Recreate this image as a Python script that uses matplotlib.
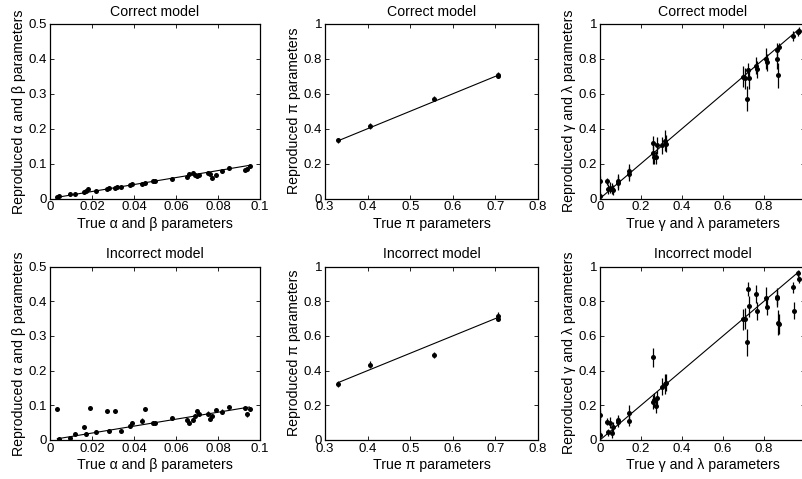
import matplotlib
matplotlib.use("Agg")
import matplotlib.pyplot as plt

plt.rcParams['font.family'] = ['Liberation Sans', 'DejaVu Sans']

# ---------------- data ----------------
# alpha / beta panels
ab_true_c = [0.0035, 0.0045, 0.0095, 0.012, 0.016, 0.017, 0.018, 0.022, 0.027, 0.028,
             0.031, 0.032, 0.034, 0.038, 0.039, 0.044, 0.045, 0.049, 0.050, 0.058,
             0.065, 0.066, 0.068, 0.069, 0.070, 0.071, 0.075, 0.076, 0.077, 0.079,
             0.082, 0.085, 0.093, 0.094, 0.095]
ab_rep_c = [0.005, 0.006, 0.012, 0.012, 0.018, 0.022, 0.026, 0.022, 0.027, 0.029,
            0.030, 0.033, 0.034, 0.039, 0.042, 0.042, 0.044, 0.050, 0.050, 0.056,
            0.063, 0.070, 0.074, 0.068, 0.064, 0.068, 0.073, 0.070, 0.060, 0.066,
            0.079, 0.088, 0.082, 0.085, 0.092]
ab_err_c = [0.003, 0.003, 0.002, 0.002, 0.003, 0.004, 0.004, 0.002, 0.004, 0.003,
            0.005, 0.006, 0.002, 0.003, 0.003, 0.003, 0.003, 0.003, 0.002, 0.003,
            0.004, 0.006, 0.006, 0.004, 0.004, 0.004, 0.005, 0.004, 0.004, 0.003,
            0.005, 0.004, 0.004, 0.005, 0.004]

ab_true_i = [0.0035, 0.0045, 0.0095, 0.012, 0.016, 0.017, 0.019, 0.022, 0.027, 0.028,
             0.031, 0.034, 0.038, 0.039, 0.044, 0.045, 0.049, 0.050, 0.058, 0.065,
             0.066, 0.068, 0.069, 0.070, 0.071, 0.075, 0.076, 0.077, 0.079, 0.082,
             0.085, 0.093, 0.094, 0.095]
ab_rep_i = [0.090, 0.004, 0.007, 0.018, 0.037, 0.018, 0.093, 0.022, 0.083, 0.027,
            0.083, 0.026, 0.040, 0.050, 0.055, 0.090, 0.049, 0.050, 0.063, 0.058,
            0.050, 0.057, 0.070, 0.083, 0.075, 0.076, 0.060, 0.068, 0.087, 0.082,
            0.094, 0.091, 0.074, 0.090]
ab_err_i = [0.002, 0.003, 0.003, 0.003, 0.004, 0.006, 0.002, 0.002, 0.002, 0.003,
            0.002, 0.003, 0.005, 0.006, 0.007, 0.002, 0.003, 0.002, 0.004, 0.006,
            0.005, 0.005, 0.005, 0.005, 0.004, 0.007, 0.006, 0.006, 0.002, 0.006,
            0.002, 0.005, 0.008, 0.006]

# pi panels
pi_true_c = [0.330, 0.405, 0.555, 0.705, 0.707]
pi_rep_c = [0.333, 0.415, 0.572, 0.708, 0.702]
pi_err_c = [0.016, 0.016, 0.016, 0.016, 0.010]

pi_true_i = [0.330, 0.405, 0.555, 0.705, 0.707]
pi_rep_i = [0.322, 0.435, 0.488, 0.716, 0.700]
pi_err_i = [0.016, 0.022, 0.018, 0.020, 0.012]

# gamma / lambda panels
gl_true_c = [0.000, 0.000, 0.033, 0.037, 0.049, 0.059, 0.065, 0.086, 0.088, 0.140,
             0.143, 0.257, 0.260, 0.265, 0.273, 0.276, 0.302, 0.317, 0.322, 0.699,
             0.709, 0.717, 0.720, 0.725, 0.761, 0.764, 0.810, 0.813, 0.862, 0.865,
             0.870, 0.872, 0.943, 0.964, 0.972]
gl_rep_c = [0.100, 0.015, 0.100, 0.053, 0.063, 0.057, 0.050, 0.100, 0.090, 0.140,
            0.160, 0.260, 0.320, 0.235, 0.235, 0.305, 0.305, 0.330, 0.315, 0.697,
            0.690, 0.573, 0.735, 0.690, 0.762, 0.740, 0.800, 0.780, 0.853, 0.800,
            0.705, 0.869, 0.930, 0.952, 0.960]
gl_err_c = [0.030, 0.020, 0.020, 0.030, 0.030, 0.030, 0.030, 0.040, 0.040, 0.040,
            0.040, 0.060, 0.040, 0.040, 0.040, 0.050, 0.050, 0.060, 0.050, 0.060,
            0.060, 0.070, 0.040, 0.060, 0.050, 0.050, 0.060, 0.050, 0.040, 0.060,
            0.070, 0.020, 0.030, 0.020, 0.020]

gl_true_i = [0.000, 0.000, 0.033, 0.037, 0.049, 0.059, 0.065, 0.086, 0.088, 0.140,
             0.143, 0.257, 0.260, 0.265, 0.273, 0.276, 0.302, 0.317, 0.322, 0.699,
             0.709, 0.717, 0.720, 0.725, 0.761, 0.764, 0.810, 0.813, 0.862, 0.865,
             0.870, 0.872, 0.943, 0.945, 0.964, 0.972]
gl_rep_i = [0.144, 0.030, 0.105, 0.044, 0.100, 0.042, 0.073, 0.115, 0.105, 0.112,
            0.154, 0.477, 0.221, 0.230, 0.196, 0.240, 0.307, 0.323, 0.330, 0.696,
            0.700, 0.562, 0.870, 0.770, 0.842, 0.744, 0.821, 0.769, 0.817, 0.827,
            0.677, 0.669, 0.879, 0.746, 0.960, 0.927]
gl_err_i = [0.030, 0.020, 0.020, 0.020, 0.030, 0.030, 0.030, 0.030, 0.030, 0.030,
            0.045, 0.055, 0.040, 0.040, 0.040, 0.040, 0.050, 0.060, 0.050, 0.060,
            0.060, 0.080, 0.040, 0.060, 0.050, 0.050, 0.060, 0.050, 0.050, 0.050,
            0.070, 0.060, 0.030, 0.050, 0.020, 0.020]

titles = ["Correct model", "Incorrect model"]
xlabels = ["True \u03b1 and \u03b2 parameters", "True \u03c0 parameters", "True \u03b3 and \u03bb parameters"]
ylabels = ["Reproduced \u03b1 and \u03b2 parameters", "Reproduced \u03c0 parameters",
           "Reproduced \u03b3 and \u03bb parameters"]

# ---------------- figure ----------------
W, H = 802, 479
fig = plt.figure(figsize=(W / 100, H / 100), dpi=100)


def px_axes(x0, x1, ytop, ybot):
    return fig.add_axes([x0 / W, 1 - ybot / H, (x1 - x0) / W, (ybot - ytop) / H])


cols = [(50, 260), (325, 538), (600, 805)]
rows = [(24, 198.5), (266.5, 440)]

panels = [
    [(ab_true_c, ab_rep_c, ab_err_c), (pi_true_c, pi_rep_c, pi_err_c), (gl_true_c, gl_rep_c, gl_err_c)],
    [(ab_true_i, ab_rep_i, ab_err_i), (pi_true_i, pi_rep_i, pi_err_i), (gl_true_i, gl_rep_i, gl_err_i)],
]
xlims = [(0, 0.1), (0.3, 0.8), (0, 1)]
ylims = [(0, 0.5), (0, 1), (0, 1)]
xticks = [[0, 0.02, 0.04, 0.06, 0.08, 0.1], [0.3, 0.4, 0.5, 0.6, 0.7, 0.8], [0, 0.2, 0.4, 0.6, 0.8, 1]]
xticklabels = [["0", "0.02", "0.04", "0.06", "0.08", "0.1"],
               ["0.3", "0.4", "0.5", "0.6", "0.7", "0.8"],
               ["0", "0.2", "0.4", "0.6", "0.8", ""]]
yticks = [[0, 0.1, 0.2, 0.3, 0.4, 0.5], [0, 0.2, 0.4, 0.6, 0.8, 1], [0, 0.2, 0.4, 0.6, 0.8, 1]]
yticklabels = [["0", "0.1", "0.2", "0.3", "0.4", "0.5"],
               ["0", "0.2", "0.4", "0.6", "0.8", "1"],
               ["0", "0.2", "0.4", "0.6", "0.8", "1"]]

for r in range(2):
    for c in range(3):
        ax = px_axes(cols[c][0], cols[c][1], rows[r][0], rows[r][1])
        x, y, e = panels[r][c]
        lo, hi = min(x), max(x)
        ax.plot([lo, hi], [lo, hi], color='black', lw=0.8)
        ax.errorbar(x, y, yerr=e, fmt='o', color='black', ms=3.6, mew=0,
                    elinewidth=0.9, capsize=2, capthick=0.9)
        ax.set_xlim(*xlims[c])
        ax.set_ylim(*ylims[c])
        ax.set_xticks(xticks[c])
        ax.set_xticklabels(xticklabels[c])
        ax.set_yticks(yticks[c])
        ax.set_yticklabels(yticklabels[c])
        ax.tick_params(direction='in', top=True, right=True, length=3, width=0.6,
                       labelsize=9.5, pad=2)
        for s in ax.spines.values():
            s.set_linewidth(0.9)
        ax.set_title(titles[r], fontsize=10.2, pad=6)
        ax.set_xlabel(xlabels[c], fontsize=10.2, labelpad=2.5)
        ax.set_ylabel(ylabels[c], fontsize=10.2, labelpad=2)

fig.savefig("out.png", dpi=100)
